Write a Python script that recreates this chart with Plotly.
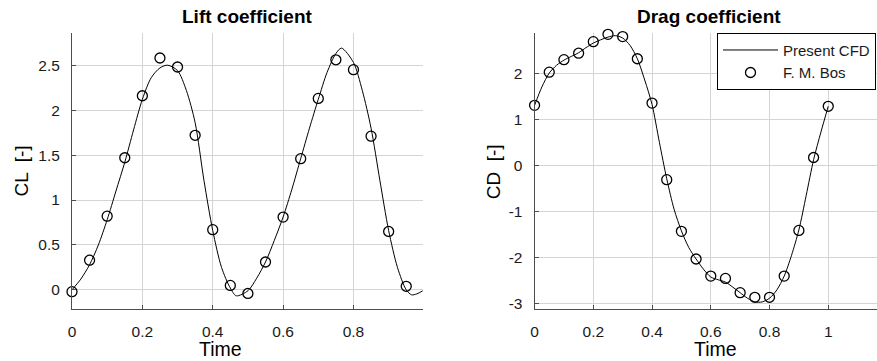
import plotly.graph_objects as go

# Reference data points (F. M. Bos), sampled every 0.05 time units
bos_time_cl = [0.0, 0.05, 0.1, 0.15, 0.2, 0.25, 0.3, 0.35, 0.4, 0.45,
               0.5, 0.55, 0.6, 0.65, 0.7, 0.75, 0.8, 0.85, 0.9, 0.95]
bos_cl = [-0.02, 0.33, 0.82, 1.47, 2.16, 2.58, 2.48, 1.72, 0.67, 0.05,
          -0.04, 0.31, 0.81, 1.46, 2.13, 2.56, 2.45, 1.71, 0.65, 0.04]

bos_time_cd = [0.0, 0.05, 0.1, 0.15, 0.2, 0.25, 0.3, 0.35, 0.4, 0.45, 0.5,
               0.55, 0.6, 0.65, 0.7, 0.75, 0.8, 0.85, 0.9, 0.95, 1.0]
bos_cd = [1.30, 2.02, 2.29, 2.43, 2.68, 2.84, 2.79, 2.31, 1.35, -0.31, -1.43,
          -2.03, -2.40, -2.45, -2.76, -2.86, -2.86, -2.40, -1.41, 0.17, 1.28]

# Present CFD results
cfd_time_cl = [0.0, 0.025, 0.05, 0.075, 0.1, 0.125, 0.15, 0.175, 0.2, 0.225,
               0.25, 0.272, 0.3, 0.325, 0.35, 0.375, 0.4, 0.425, 0.45, 0.467,
               0.5, 0.525, 0.55, 0.575, 0.6, 0.625, 0.65, 0.675, 0.7, 0.725,
               0.75, 0.766, 0.8, 0.825, 0.85, 0.875, 0.9, 0.925, 0.95, 0.965,
               0.98, 0.997]
cfd_cl = [0.0, 0.12, 0.28, 0.50, 0.78, 1.10, 1.42, 1.78, 2.12, 2.36,
          2.47, 2.50, 2.44, 2.22, 1.86, 1.22, 0.66, 0.25, 0.02, -0.066,
          -0.01, 0.13, 0.31, 0.55, 0.81, 1.12, 1.46, 1.80, 2.12, 2.42,
          2.63, 2.69, 2.53, 2.22, 1.80, 1.22, 0.66, 0.25, 0.0, -0.055,
          -0.045, -0.01]

cfd_time_cd = [0.0, 0.025, 0.05, 0.075, 0.1, 0.125, 0.15, 0.175, 0.2, 0.225,
               0.25, 0.275, 0.3, 0.325, 0.35, 0.375, 0.4, 0.425, 0.45, 0.475,
               0.5, 0.525, 0.55, 0.575, 0.6, 0.625, 0.65, 0.675, 0.7, 0.725,
               0.75, 0.775, 0.8, 0.825, 0.85, 0.875, 0.9, 0.925, 0.95, 0.975,
               1.0]
cfd_cd = [1.30, 1.70, 2.00, 2.17, 2.28, 2.36, 2.44, 2.55, 2.65, 2.72,
          2.78, 2.81, 2.76, 2.60, 2.31, 1.85, 1.32, 0.50, -0.29, -0.95,
          -1.42, -1.78, -2.03, -2.25, -2.42, -2.48, -2.53, -2.64, -2.76, -2.88,
          -2.96, -2.96, -2.88, -2.70, -2.40, -1.95, -1.40, -0.65, 0.12, 0.72,
          1.28]

cl_ticks = [0, 0.5, 1, 1.5, 2, 2.5]
cd_ticks = [-3, -2, -1, 0, 1, 2]
time_ticks_cl = [0, 0.2, 0.4, 0.6, 0.8]
time_ticks_cd = [0, 0.2, 0.4, 0.6, 0.8, 1]

FONT = "Liberation Sans, Arial, Helvetica, sans-serif"
TXT = "#1a1a1a"
AX = "#4d4d4d"
GRID = "#d4d4d4"

fig = go.Figure()

line_style = dict(color="black", width=1, shape="spline", smoothing=0.8)
marker_style = dict(symbol="circle-open", size=10, color="black", line=dict(width=1.3))

fig.add_trace(go.Scatter(x=cfd_time_cl, y=cfd_cl, mode="lines", line=line_style,
                         name="Present CFD", showlegend=False, cliponaxis=False,
                         xaxis="x", yaxis="y"))
fig.add_trace(go.Scatter(x=bos_time_cl, y=bos_cl, mode="markers", marker=marker_style,
                         name="F. M. Bos", showlegend=False, cliponaxis=False,
                         xaxis="x", yaxis="y"))
fig.add_trace(go.Scatter(x=cfd_time_cd, y=cfd_cd, mode="lines", line=line_style,
                         name="Present CFD", showlegend=True, cliponaxis=False,
                         xaxis="x2", yaxis="y2"))
fig.add_trace(go.Scatter(x=bos_time_cd, y=bos_cd, mode="markers", marker=marker_style,
                         name="F. M. Bos", showlegend=True, cliponaxis=False,
                         xaxis="x2", yaxis="y2"))

W, H = 877, 361
ydom = [1 - 311.7 / H, 1 - 33.2 / H]

def axis_style(**kw):
    base = dict(showgrid=True, gridcolor=GRID, gridwidth=1, zeroline=False,
                showline=True, linecolor=AX, linewidth=1,
                ticks="inside", ticklen=4, tickcolor=AX, tickwidth=1,
                tickfont=dict(family=FONT, size=15.5, color=TXT))
    base.update(kw)
    return base

def label(text, x, y, size, angle=0):
    return dict(text=text, x=x / W, y=1 - y / H, xref="paper", yref="paper",
                xanchor="center", yanchor="middle", showarrow=False,
                textangle=angle, font=dict(family=FONT, size=size, color="black"))

fig.update_layout(
    width=W, height=H,
    margin=dict(l=0, r=0, t=0, b=0),
    paper_bgcolor="white", plot_bgcolor="white",
    font=dict(family=FONT, color=TXT),
    xaxis=axis_style(domain=[68.3 / W, 420.7 / W], range=[0, 0.997],
                     tickvals=time_ticks_cl, ticktext=[f"{v:g}" for v in time_ticks_cl],
                     anchor="y", ticklabelstandoff=8),
    yaxis=axis_style(domain=ydom, range=[-0.214, 2.859],
                     tickvals=cl_ticks, ticktext=[f"{v:g}" for v in cl_ticks],
                     anchor="x", ticklabelstandoff=8),
    xaxis2=axis_style(domain=[533 / W, 1.0], range=[0, 1.166],
                      tickvals=time_ticks_cd, ticktext=[f"{v:g}" for v in time_ticks_cd],
                      anchor="y2", ticklabelstandoff=8),
    yaxis2=axis_style(domain=ydom, range=[-3.116, 2.87],
                      tickvals=cd_ticks, ticktext=[f"{v:g}" for v in cd_ticks],
                      anchor="x2", ticklabelstandoff=8),
    legend=dict(x=876 / W, y=1 - 33 / H, xanchor="right", yanchor="top",
                bgcolor="white", bordercolor="black", borderwidth=1,
                font=dict(family=FONT, size=15, color=TXT),
                itemwidth=55, tracegroupgap=0),
    annotations=[
        label("<b>Lift coefficient</b>", 244.5, 17, 19),
        label("<b>Drag coefficient</b>", 708.5, 17, 19),
        label("Time", 217, 351.5, 19.5),
        label("Time", 715, 351.5, 19.5),
        label("CL  [-]", 18, 172, 19, -90),
        label("CD  [-]", 492, 173, 19, -90),
    ],
)

fig.write_html("out.html")
